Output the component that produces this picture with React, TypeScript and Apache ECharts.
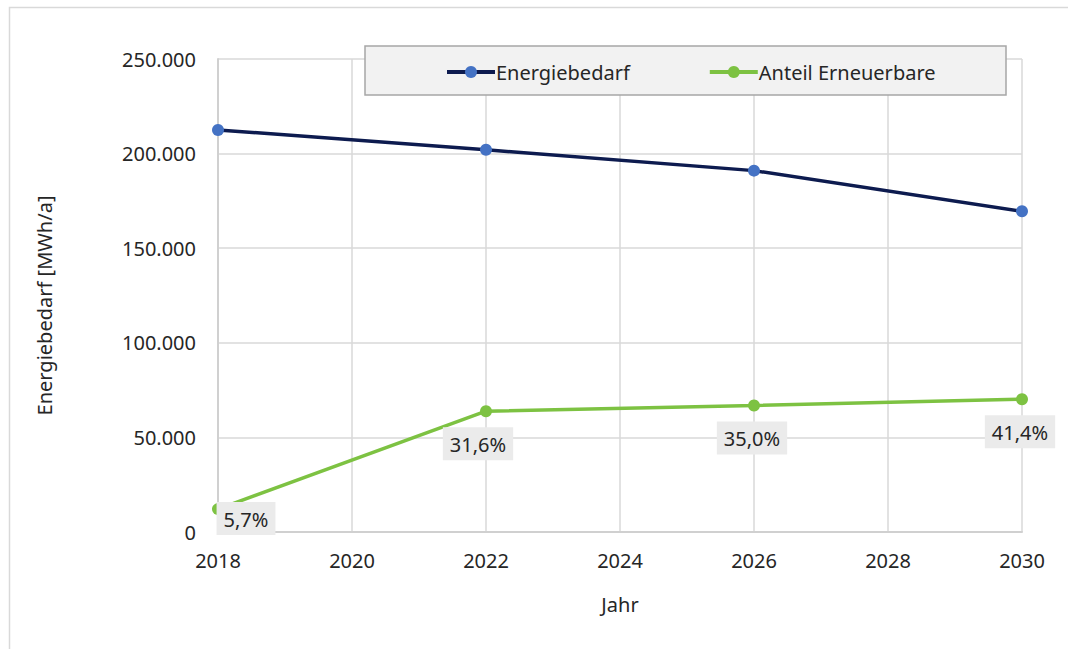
import React, { useEffect, useRef } from "react";
import * as echarts from "echarts";

// Jahre und Werte
const years = [2018, 2022, 2026, 2030];
const energyDemand = [212500, 202000, 191000, 169500]; // MWh/a
const renewableShare = [5.7, 31.6, 35.0, 41.4]; // % des Energiebedarfs
const yTicks = [0, 50000, 100000, 150000, 200000, 250000];

const FONT = "'Noto Sans', sans-serif";
const TEXT = "#262626";

const fmtThousands = (v: number) =>
  v === 0 ? "0" : String(v).replace(/\B(?=(\d{3})+(?!\d))/g, ".");
const fmtPct = (v: number) => v.toFixed(1).replace(".", ",") + "%";

// Lageversatz der Prozent-Beschriftungen je Punkt
const labelOffsets: [number, number][] = [
  [28, -23],
  [-8, 0],
  [-2, 0],
  [-2, 0],
];

export default function App() {
  const ref = useRef<HTMLDivElement>(null);

  useEffect(() => {
    if (!ref.current) return;
    const chart = echarts.init(ref.current, null, { renderer: "svg" });

    const demandData = years.map((y, i) => [y, energyDemand[i]]);
    const renewableData = years.map((y, i) => ({
      value: [y, (energyDemand[i] * renewableShare[i]) / 100],
      share: renewableShare[i],
      label: { offset: labelOffsets[i] },
    }));

    chart.setOption({
      animation: false,
      backgroundColor: "#ffffff",
      textStyle: { fontFamily: FONT },
      graphic: [
        {
          type: "rect",
          shape: { x: 9.5, y: 7.5, width: 1100, height: 700 },
          style: { fill: "none", stroke: "#d9d9d9", lineWidth: 1.5 },
          silent: true,
          z: -10,
        },
        {
          type: "rect",
          shape: { x: 365, y: 46, width: 641, height: 49 },
          style: { fill: "#f2f2f2", stroke: "#a6a6a6", lineWidth: 1.5 },
          silent: true,
          z: 5,
        },
      ],
      grid: { left: 218, right: 46, top: 59, bottom: 117 },
      legend: {
        top: 57,
        left: 440,
        itemGap: 78,
        itemWidth: 48,
        itemHeight: 15,
        z: 10,
        lineStyle: { width: 4 },
        textStyle: { fontSize: 20, color: TEXT, fontFamily: FONT, padding: [0, 0, 0, -4] },
        data: ["Energiebedarf", "Anteil Erneuerbare"],
      },
      xAxis: {
        type: "value",
        min: 2018,
        max: 2030,
        interval: 2,
        name: "Jahr",
        nameLocation: "middle",
        nameGap: 62,
        nameTextStyle: { fontSize: 20, color: TEXT, fontFamily: FONT },
        axisLine: { lineStyle: { color: "#d0d0d0", width: 2 } },
        axisTick: { show: false },
        axisLabel: {
          fontSize: 20,
          color: TEXT,
          margin: 18,
          fontFamily: FONT,
          formatter: (v: number) => String(v),
        },
        splitLine: { show: true, lineStyle: { color: "#d9d9d9", width: 1.5 } },
      },
      yAxis: {
        type: "value",
        min: 0,
        max: 250000,
        interval: 50000,
        name: "Energiebedarf [MWh/a]",
        nameLocation: "middle",
        nameGap: 164,
        nameTextStyle: {
          fontSize: 20,
          color: TEXT,
          fontFamily: FONT,
          padding: [0, 20, 0, 0],
        },
        axisLine: { show: true, lineStyle: { color: "#d0d0d0", width: 2 } },
        axisTick: { show: false },
        axisLabel: {
          fontSize: 20,
          color: TEXT,
          margin: 22,
          fontFamily: FONT,
          formatter: (v: number) => (yTicks.includes(v) ? fmtThousands(v) : ""),
        },
        splitLine: { show: true, lineStyle: { color: "#d9d9d9", width: 1.5 } },
      },
      series: [
        {
          name: "Energiebedarf",
          type: "line",
          data: demandData,
          symbol: "circle",
          symbolSize: 12,
          lineStyle: { color: "#0d1b4f", width: 3.5 },
          itemStyle: { color: "#4472c4", borderWidth: 0 },
          z: 3,
        },
        {
          name: "Anteil Erneuerbare",
          type: "line",
          data: renewableData,
          symbol: "circle",
          symbolSize: 12,
          lineStyle: { color: "#7dc242", width: 3.5 },
          itemStyle: { color: "#7dc242", borderWidth: 0 },
          z: 3,
          label: {
            show: true,
            position: "bottom",
            distance: 10,
            fontSize: 20,
            fontFamily: FONT,
            color: TEXT,
            backgroundColor: "#ebebeb",
            padding: [4, 7, 3, 7],
            lineHeight: 26,
            formatter: (p: any) => fmtPct(p.data.share),
          },
        },
      ],
    });

    return () => chart.dispose();
  }, []);

  return (
    <div
      ref={ref}
      style={{ position: "fixed", left: 0, top: 0, width: 1068, height: 649 }}
    />
  );
}
